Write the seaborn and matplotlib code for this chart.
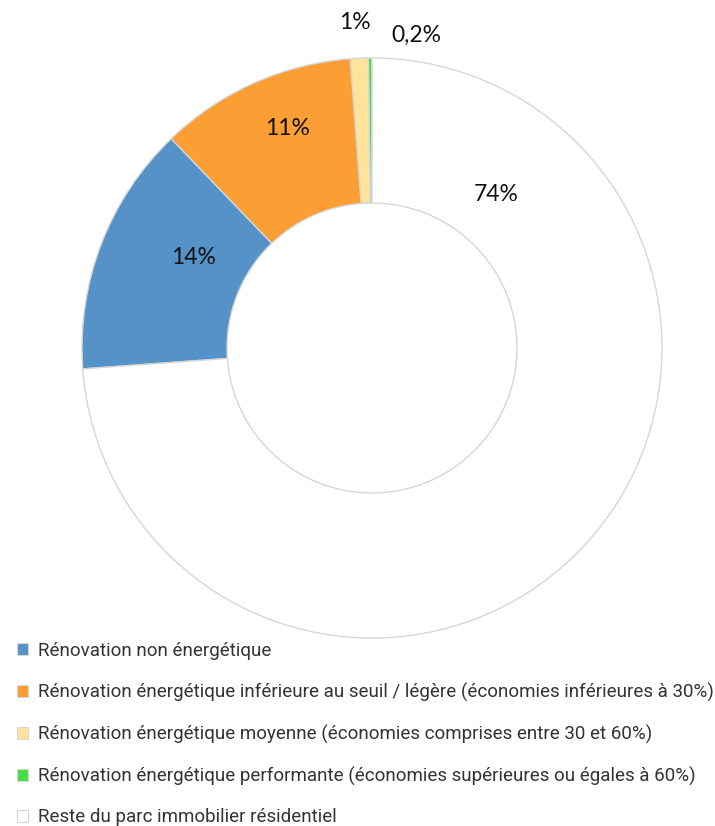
import matplotlib
matplotlib.use("Agg")
import matplotlib.pyplot as plt
from matplotlib.patches import Patch
import numpy as np
import seaborn as sns

sns.set_theme(style="white")
plt.rcParams["font.family"] = ["Roboto", "DejaVu Sans"]

# Parts of the residential housing stock by type of renovation
categories = [
    "Rénovation énergétique performante (économies supérieures ou égales à 60%)",
    "Rénovation énergétique moyenne (économies comprises entre 30 et 60%)",
    "Rénovation énergétique inférieure au seuil / légère (économies inférieures à 30%)",
    "Rénovation non énergétique",
    "Reste du parc immobilier résidentiel",
]
shares = [0.2, 1, 11, 14, 74]
share_labels = ["0,2%", "1%", "11%", "14%", "74%"]
colors = ["#45DE45", "#FFE39B", "#FB9E33", "#5592C8", "#FFFFFF"]

legend_order = [3, 2, 1, 0, 4]

fig = plt.figure(figsize=(7.15, 8.26), dpi=100)
ax = fig.add_axes([82 / 715, 188 / 826, 580 / 715, 580 / 826])

wedges, _ = ax.pie(
    shares,
    colors=colors,
    startangle=90,
    counterclock=True,
    radius=1.0,
    wedgeprops=dict(width=0.5, edgecolor="#D6D6D6", linewidth=1.0),
)
ax.set_xlim(-1, 1)
ax.set_ylim(-1, 1)
ax.set_aspect("equal")
ax.axis("off")

# label placement (radius, angle in degrees) for each slice
label_pos = [(1.09, 82.0), (1.125, 93.0), (0.81, 111.0), (0.69, 153.0), (0.68, 51.0)]
for txt, (r, a) in zip(share_labels, label_pos):
    t = np.deg2rad(a)
    ax.text(r * np.cos(t), r * np.sin(t), txt, ha="center", va="center",
            fontsize=16.5, color="#111111", family=["Lato", "DejaVu Sans"],
            clip_on=False)

handles = [Patch(facecolor=colors[i], edgecolor="#D6D6D6", linewidth=0.8)
           for i in legend_order]
labels = [categories[i] for i in legend_order]
fig.legend(
    handles, labels,
    loc="upper left", bbox_to_anchor=(17 / 715, 1 - 642 / 826),
    frameon=False, fontsize=13.5, labelcolor="#333333",
    handlelength=0.6, handleheight=0.6, handletextpad=0.5,
    labelspacing=1.21, borderaxespad=0, borderpad=0,
)

fig.savefig("out.png", dpi=100, facecolor="white")
